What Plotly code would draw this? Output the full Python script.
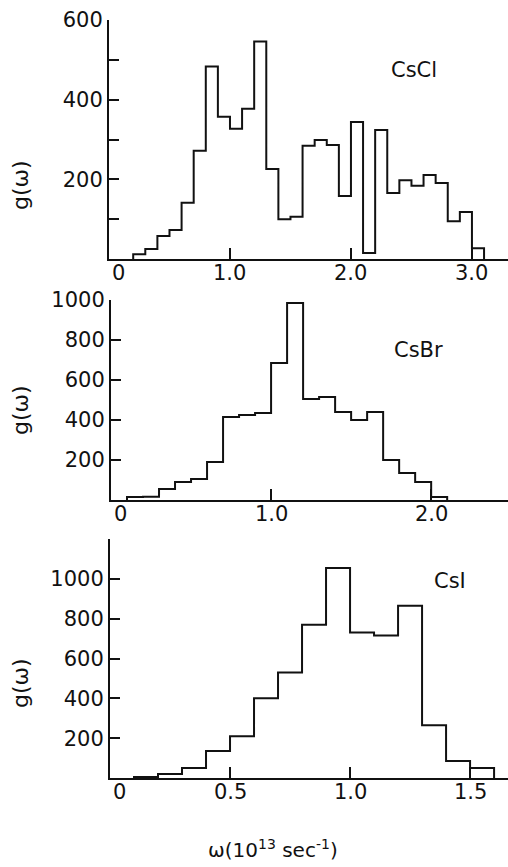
import plotly.graph_objects as go

# Phonon frequency distributions g(omega), histogram bins of width 0.1 (10^13 sec^-1)
bin_width = 0.1

cscl_start = 0.2
cscl_values = [12, 25, 58, 73, 141, 272, 483, 357, 327, 377, 546, 226, 100, 106,
               284, 299, 286, 158, 344, 15, 324, 166, 198, 184, 211, 191, 95, 118, 27]

csbr_start = 0.1
csbr_values = [15, 16, 55, 90, 105, 190, 415, 425, 435, 685, 985, 505, 515, 440,
               400, 440, 200, 135, 90, 15]

csi_start = 0.1
csi_values = [5, 20, 50, 135, 210, 400, 530, 770, 1055, 730, 715, 865, 265, 85, 50]

names = ["CsCl", "CsBr", "CsI"]

# labelled y ticks and unlabelled (minor) y ticks per panel
cscl_yticks = [200, 400, 600]
cscl_yminor = [100, 300, 500]
csbr_yticks = [200, 400, 600, 800, 1000]
csbr_yminor = []
csi_yticks = [200, 400, 600, 800, 1000]
csi_yminor = [1200]

cscl_xticks = [1.0, 2.0, 3.0]
csbr_xticks = [1.0, 2.0]
csi_xticks = [0.5, 1.0, 1.5]

W, H = 508, 867
FONT = "DejaVu Sans"
INK = "#111111"


def step_xy(start, values):
    edges = [round(start + i * bin_width, 4) for i in range(len(values) + 1)]
    xs = [edges[0]] + edges[:-1] + [edges[-1]]
    ys = [0] + list(values) + [0]
    return xs, ys


def text_note(px, py, text, size=21, angle=0):
    return dict(x=px / W, y=1 - py / H, xref="paper", yref="paper", text=text,
                xanchor="center", yanchor="middle", textangle=angle,
                showarrow=False, font=dict(family=FONT, size=size, color=INK))


# panel geometry in pixels
panels = [
    dict(left=109, top=20, bottom=259, xmax=3.298, ymax=600,
         start=cscl_start, vals=cscl_values, yt=cscl_yticks, ym=cscl_yminor,
         xt=cscl_xticks, label_xy=(414, 70), glabel_y=185),
    dict(left=111, top=300, bottom=500, xmax=2.48, ymax=1000,
         start=csbr_start, vals=csbr_values, yt=csbr_yticks, ym=csbr_yminor,
         xt=csbr_xticks, label_xy=(418, 350), glabel_y=410),
    dict(left=110, top=539, bottom=778, xmax=1.658, ymax=1200,
         start=csi_start, vals=csi_values, yt=csi_yticks, ym=csi_yminor,
         xt=csi_xticks, label_xy=(450, 581), glabel_y=683),
]

fig = go.Figure()
annotations = []
layout = {}

for i, p in enumerate(panels):
    n = "" if i == 0 else str(i + 1)
    xs, ys = step_xy(p["start"], p["vals"])
    fig.add_trace(go.Scatter(
        x=xs, y=ys, mode="lines", line=dict(shape="hv", color=INK, width=2),
        xaxis="x" + n, yaxis="y" + n, showlegend=False, hoverinfo="skip",
    ))
    layout["xaxis" + n] = dict(
        domain=[p["left"] / W, 1.0], range=[0, p["xmax"]], anchor="y" + n,
        showgrid=False, zeroline=False, showline=True, linecolor=INK, linewidth=2,
        ticks="inside", ticklen=11, tickwidth=2, tickcolor=INK,
        tickvals=p["xt"], showticklabels=False, automargin=False,
    )
    layout["yaxis" + n] = dict(
        domain=[1 - p["bottom"] / H, 1 - p["top"] / H], range=[0, p["ymax"]],
        anchor="x" + n, showgrid=False, zeroline=False, showline=True,
        linecolor=INK, linewidth=2, ticks="inside", ticklen=10, tickwidth=2,
        tickcolor=INK, tickvals=p["yt"], ticktext=[str(v) for v in p["yt"]],
        tickfont=dict(family=FONT, size=21, color=INK), automargin=False,
        minor=dict(tickvals=p["ym"], ticks="inside", ticklen=10, tickwidth=2,
                   tickcolor=INK, showgrid=False),
    )
    # frequency tick labels, placed just under the axis
    scale = (W - p["left"]) / p["xmax"]
    label_y = p["bottom"] + 14
    annotations.append(text_note(p["left"] + 9, label_y, "0"))
    for v in p["xt"]:
        annotations.append(text_note(p["left"] + v * scale, label_y, f"{v:.1f}"))
    # compound name
    lx, ly = p["label_xy"]
    annotations.append(text_note(lx, ly, names[i]))
    # g(omega) axis title
    annotations.append(text_note(20, p["glabel_y"], "g(ω)", size=22, angle=-90))

annotations.append(text_note(273, 849, "ω(10<sup>13</sup> sec<sup>-1</sup>)", size=20))

fig.update_layout(
    width=W, height=H, margin=dict(l=0, r=0, t=0, b=0),
    paper_bgcolor="white", plot_bgcolor="white",
    annotations=annotations, **layout,
)

fig.write_html("out.html")
